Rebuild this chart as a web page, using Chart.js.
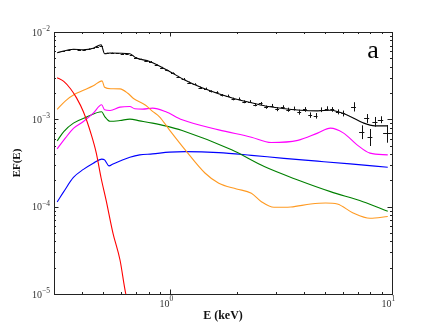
<!DOCTYPE html>
<html>
<head>
<meta charset="utf-8">
<script src="https://cdn.jsdelivr.net/npm/chart.js@4.4.1/dist/chart.umd.min.js"></script>
<style>
  html, body { margin: 0; padding: 0; background: #fff; }
  canvas { display: block; }
</style>
</head>
<body>
<canvas id="specChart" width="436" height="327"></canvas>
<script>
// ---- spectrum values (E in keV, EF(E)) ----

// total model (black)
const totalE = [0.31, 0.367, 0.407, 0.451, 0.489, 0.507, 0.537, 0.659, 0.701, 0.809, 1.0, 1.158, 1.393, 1.953, 2.325, 2.77, 3.88, 4.62, 5.28, 6.48, 7.40, 8.38, 9.57];
const totalF = [5.79e-3, 6.35e-3, 6.27e-3, 6.52e-3, 7.15e-3, 5.64e-3, 5.74e-3, 5.64e-3, 5.07e-3, 4.60e-3, 3.51e-3, 2.84e-3, 2.30e-3, 1.72e-3, 1.55e-3, 1.40e-3, 1.27e-3, 1.25e-3, 1.27e-3, 1.08e-3, 9.12e-4, 8.42e-4, 8.42e-4];

// red component
const redE = [0.31, 0.332, 0.356, 0.379, 0.407, 0.442, 0.465, 0.489, 0.515, 0.553, 0.595, 0.632, 0.65];
const redF = [3.0e-3, 2.72e-3, 2.24e-3, 1.76e-3, 1.22e-3, 6.64e-4, 4.13e-4, 2.13e-4, 1.19e-4, 4.99e-5, 2.45e-5, 1.0e-5, 8.0e-6];

// orange component
const orangeE = [0.31, 0.338, 0.375, 0.407, 0.451, 0.494, 0.507, 0.542, 0.595, 0.645, 0.687, 0.776, 0.834, 0.896, 0.993, 1.170, 1.436, 1.658, 1.993, 2.325, 2.58, 2.94, 3.50, 4.30, 5.02, 5.67, 6.68, 7.96, 9.57];
const orangeF = [1.30e-3, 1.63e-3, 1.96e-3, 2.15e-3, 2.42e-3, 2.76e-3, 2.33e-3, 2.24e-3, 2.23e-3, 1.99e-3, 1.72e-3, 1.45e-3, 1.235e-3, 1.069e-3, 7.58e-4, 4.47e-4, 2.43e-4, 1.854e-4, 1.596e-4, 1.424e-4, 1.141e-4, 9.84e-5, 9.93e-5, 1.074e-4, 1.103e-4, 1.074e-4, 8.47e-5, 7.36e-5, 7.72e-5];

// magenta component
const magentaE = [0.31, 0.338, 0.367, 0.407, 0.451, 0.492, 0.507, 0.537, 0.595, 0.659, 0.693, 0.753, 0.834, 0.953, 1.134, 1.658, 2.325, 2.855, 3.765, 4.62, 5.28, 6.03, 6.96, 7.96, 9.57];
const magentaF = [4.59e-4, 6.13e-4, 7.88e-4, 9.44e-4, 1.178e-3, 1.466e-3, 1.285e-3, 1.262e-3, 1.38e-3, 1.402e-3, 1.32e-3, 1.309e-3, 1.344e-3, 1.229e-3, 9.87e-4, 7.58e-4, 6.25e-4, 5.42e-4, 5.74e-4, 6.95e-4, 7.93e-4, 7.0e-4, 5.10e-4, 4.10e-4, 3.92e-4];

// green component
const greenE = [0.31, 0.332, 0.367, 0.420, 0.492, 0.507, 0.537, 0.595, 0.659, 0.730, 0.834, 0.953, 1.134, 1.894, 2.657, 3.765, 5.28, 7.40, 9.57];
const greenF = [5.67e-4, 7.25e-4, 9.05e-4, 1.06e-3, 1.219e-3, 1.083e-3, 9.49e-4, 9.69e-4, 1.005e-3, 9.61e-4, 9.05e-4, 8.42e-4, 7.44e-4, 4.47e-4, 2.875e-4, 2.02e-4, 1.486e-4, 1.141e-4, 8.86e-5];

// blue component
const blueE = [0.31, 0.332, 0.367, 0.407, 0.451, 0.492, 0.507, 0.531, 0.5535, 0.595, 0.659, 0.730, 0.834, 0.993, 1.170, 1.658, 2.325, 3.26, 4.62, 6.48, 9.57];
const blueF = [1.132e-4, 1.486e-4, 2.16e-4, 2.67e-4, 3.145e-4, 3.505e-4, 3.43e-4, 2.93e-4, 3.09e-4, 3.34e-4, 3.685e-4, 3.92e-4, 4.02e-4, 4.21e-4, 4.27e-4, 4.16e-4, 3.87e-4, 3.57e-4, 3.32e-4, 3.09e-4, 2.83e-4];

// observed spectrum (black crosses): energy, half bin width, flux, flux error
const obsE = [0.33, 0.35, 0.37, 0.39, 0.41, 0.43, 0.45, 0.47, 0.49, 0.52, 0.55, 0.58, 0.61, 0.64, 0.67, 0.70, 0.74, 0.78,
              0.82, 0.87, 0.92, 0.97, 1.03, 1.09, 1.15, 1.22, 1.29, 1.37, 1.45, 1.53, 1.62, 1.72, 1.82, 1.93, 2.04, 2.16,
              2.29, 2.42, 2.56, 2.71, 2.87, 3.04, 3.22, 3.41, 3.61, 3.82, 4.05, 4.28, 4.53, 4.80, 5.08, 5.38, 5.70, 6.03,
              6.71, 7.31, 7.69, 7.96, 8.38, 8.88, 9.54];
const obsEw = [0.006, 0.006, 0.007, 0.007, 0.007, 0.008, 0.008, 0.008, 0.009, 0.009, 0.010, 0.010, 0.011, 0.011, 0.012, 0.012, 0.013, 0.014,
               0.016, 0.017, 0.018, 0.019, 0.020, 0.021, 0.022, 0.024, 0.025, 0.027, 0.028, 0.030, 0.032, 0.034, 0.036, 0.038, 0.040, 0.043,
               0.045, 0.048, 0.051, 0.054, 0.057, 0.060, 0.064, 0.068, 0.072, 0.076, 0.080, 0.085, 0.090, 0.095, 0.100, 0.107, 0.113, 0.120,
               0.17, 0.20, 0.20, 0.20, 0.22, 0.25, 0.42];
const obsF = [6.00e-3, 6.20e-3, 6.33e-3, 6.30e-3, 6.27e-3, 6.42e-3, 6.50e-3, 6.78e-3, 7.00e-3, 5.72e-3, 5.74e-3, 5.68e-3, 5.66e-3, 5.64e-3, 5.48e-3, 5.10e-3, 4.88e-3, 4.70e-3,
              4.58e-3, 4.18e-3, 3.92e-3, 3.63e-3, 3.38e-3, 3.07e-3, 2.90e-3, 2.64e-3, 2.53e-3, 2.31e-3, 2.25e-3, 2.09e-3, 2.04e-3, 1.89e-3, 1.86e-3, 1.71e-3, 1.72e-3, 1.59e-3,
              1.60e-3, 1.47e-3, 1.52e-3, 1.38e-3, 1.44e-3, 1.31e-3, 1.38e-3, 1.29e-3, 1.33e-3, 1.21e-3, 1.30e-3, 1.12e-3, 1.10e-3, 1.29e-3, 1.33e-3, 1.30e-3, 1.22e-3, 1.17e-3,
              1.40e-3, 7.24e-4, 1.03e-3, 6.35e-4, 9.44e-4, 9.94e-4, 7.0e-4];
const obsErr = [0.06e-3, 0.06e-3, 0.06e-3, 0.06e-3, 0.06e-3, 0.06e-3, 0.06e-3, 0.06e-3, 0.06e-3, 0.06e-3, 0.06e-3, 0.06e-3, 0.06e-3, 0.06e-3, 0.06e-3, 0.06e-3, 0.06e-3, 0.06e-3,
                0.07e-3, 0.07e-3, 0.07e-3, 0.07e-3, 0.07e-3, 0.07e-3, 0.07e-3, 0.06e-3, 0.06e-3, 0.06e-3, 0.06e-3, 0.06e-3, 0.06e-3, 0.06e-3, 0.06e-3, 0.06e-3, 0.06e-3, 0.06e-3,
                0.06e-3, 0.06e-3, 0.06e-3, 0.06e-3, 0.06e-3, 0.07e-3, 0.07e-3, 0.07e-3, 0.07e-3, 0.08e-3, 0.08e-3, 0.08e-3, 0.08e-3, 0.08e-3, 0.08e-3, 0.08e-3, 0.08e-3, 0.09e-3,
                0.17e-3, 1.3e-4, 1.2e-4, 1.4e-4, 1.2e-4, 0.9e-4, 1.6e-4];

// axis ranges and panel letter
const xRange = [0.31, 10];
const yRange = [1e-5, 1e-2];
const panelLabel = 'a';

const SERIF = '"Liberation Serif", "DejaVu Serif", serif';

function toPoints(es, fs) {
    return es.map((e, i) => ({ x: e, y: fs[i] }));
}

function lineSet(label, es, fs, colour) {
    return {
        type: 'line',
        label: label,
        data: toPoints(es, fs),
        borderColor: colour,
        borderWidth: 1.1,
        pointRadius: 0,
        fill: false,
        cubicInterpolationMode: 'monotone'
    };
}

// log tick values k*10^n inside the range
function logTicks(min, max) {
    const out = [];
    for (let n = Math.floor(Math.log10(min)); n <= Math.ceil(Math.log10(max)); n++) {
        for (let k = 1; k < 10; k++) {
            const v = k * Math.pow(10, n);
            if (v >= min * 0.9999 && v <= max * 1.0001) out.push({ value: v, major: k === 1 });
        }
    }
    return out;
}

const supMinus = '\u2212';

// frame, inward ticks on all sides, 10^n labels, panel letter
const axesDecor = {
    id: 'axesDecor',
    afterDraw(chart) {
        const { ctx, chartArea: a, scales } = chart;
        const xs = scales.x, ys = scales.y;
        ctx.save();
        ctx.strokeStyle = '#222';
        ctx.lineWidth = 1;
        ctx.strokeRect(Math.round(a.left) + 0.5, Math.round(a.top) + 0.5, Math.round(a.right - a.left), Math.round(a.bottom - a.top));

        ctx.beginPath();
        logTicks(xRange[0], xRange[1]).forEach(t => {
            const px = Math.round(xs.getPixelForValue(t.value)) + 0.5;
            const len = t.major ? 4.5 : 2;
            ctx.moveTo(px, a.bottom); ctx.lineTo(px, a.bottom - len);
            ctx.moveTo(px, a.top); ctx.lineTo(px, a.top + len);
        });
        logTicks(yRange[0], yRange[1]).forEach(t => {
            const py = Math.round(ys.getPixelForValue(t.value)) + 0.5;
            const len = t.major ? 4.5 : 2;
            ctx.moveTo(a.left, py); ctx.lineTo(a.left + len, py);
            ctx.moveTo(a.right, py); ctx.lineTo(a.right - len, py);
        });
        ctx.stroke();

        ctx.fillStyle = '#333';
        ctx.textBaseline = 'middle';
        const baseFont = '10px ' + SERIF;
        const expFont = '7.5px ' + SERIF;

        // y labels
        logTicks(yRange[0], yRange[1]).filter(t => t.major).forEach(t => {
            const py = ys.getPixelForValue(t.value);
            const n = Math.round(Math.log10(t.value));
            const expText = (n < 0 ? supMinus : '') + Math.abs(n);
            ctx.font = expFont;
            const ew = ctx.measureText(expText).width;
            ctx.textAlign = 'right';
            ctx.fillText(expText, a.left - 4, py - 3);
            ctx.font = baseFont;
            ctx.fillText('10', a.left - 4 - ew, py + 1);
        });

        // x labels
        logTicks(xRange[0], xRange[1]).filter(t => t.major).forEach(t => {
            const px = xs.getPixelForValue(t.value);
            const n = Math.round(Math.log10(t.value));
            const expText = (n < 0 ? supMinus : '') + Math.abs(n);
            ctx.font = baseFont;
            ctx.textAlign = 'right';
            ctx.fillText('10', px - 0.5, a.bottom + 10);
            ctx.font = expFont;
            ctx.textAlign = 'left';
            ctx.fillText(expText, px - 0.5, a.bottom + 5.5);
        });

        // panel letter
        ctx.fillStyle = '#000';
        ctx.font = '26px ' + SERIF;
        ctx.textAlign = 'center';
        ctx.textBaseline = 'alphabetic';
        ctx.fillText(panelLabel, a.right - 19, a.top + 26);
        ctx.restore();
    }
};

// error bars for the observed spectrum
const errorBars = {
    id: 'errorBars',
    afterDatasetsDraw(chart) {
        const { ctx, chartArea: a, scales } = chart;
        const xs = scales.x, ys = scales.y;
        ctx.save();
        ctx.beginPath();
        ctx.rect(a.left, a.top, a.right - a.left, a.bottom - a.top);
        ctx.clip();
        ctx.strokeStyle = '#111';
        ctx.lineWidth = 1;
        ctx.beginPath();
        obsE.forEach((e, i) => {
            const px = xs.getPixelForValue(e);
            const py = ys.getPixelForValue(obsF[i]);
            const x0 = xs.getPixelForValue(e - obsEw[i]);
            const x1 = xs.getPixelForValue(e + obsEw[i]);
            const y0 = ys.getPixelForValue(obsF[i] + obsErr[i]);
            const y1 = ys.getPixelForValue(obsF[i] - obsErr[i]);
            const cx = Math.round(px) + 0.5, cy = Math.round(py) + 0.5;
            ctx.moveTo(cx, y0); ctx.lineTo(cx, y1);
            ctx.moveTo(x0, cy); ctx.lineTo(x1, cy);
        });
        ctx.stroke();
        ctx.restore();
    }
};

const ctx = document.getElementById('specChart').getContext('2d');
new Chart(ctx, {
    type: 'scatter',
    data: {
        datasets: [
            lineSet('total', totalE, totalF, '#000000'),
            lineSet('red', redE, redF, '#ff0000'),
            lineSet('orange', orangeE, orangeF, '#ff9a22'),
            lineSet('magenta', magentaE, magentaF, '#ff00ff'),
            lineSet('green', greenE, greenF, '#008000'),
            lineSet('blue', blueE, blueF, '#0000ff')
        ]
    },
    options: {
        responsive: false,
        animation: false,
        layout: { padding: { top: 32, right: 44, left: 0, bottom: 0 } },
        plugins: {
            legend: { display: false },
            tooltip: { enabled: false }
        },
        scales: {
            x: {
                type: 'logarithmic',
                min: xRange[0],
                max: xRange[1],
                grid: { display: false },
                border: { display: false },
                ticks: { display: false },
                title: {
                    display: true,
                    text: 'E (keV)',
                    color: '#111',
                    font: { family: SERIF, size: 12, weight: 'bold' },
                    padding: { top: 0, bottom: 4 }
                },
                afterFit: s => { s.height = 33; }
            },
            y: {
                type: 'logarithmic',
                min: yRange[0],
                max: yRange[1],
                grid: { display: false },
                border: { display: false },
                ticks: { display: false },
                title: {
                    display: true,
                    text: 'EF(E)',
                    color: '#111',
                    font: { family: SERIF, size: 11, weight: 'bold' },
                    padding: { top: 11, bottom: 0 }
                },
                afterFit: s => { s.width = 54; }
            }
        }
    },
    plugins: [errorBars, axesDecor]
});
</script>
</body>
</html>
